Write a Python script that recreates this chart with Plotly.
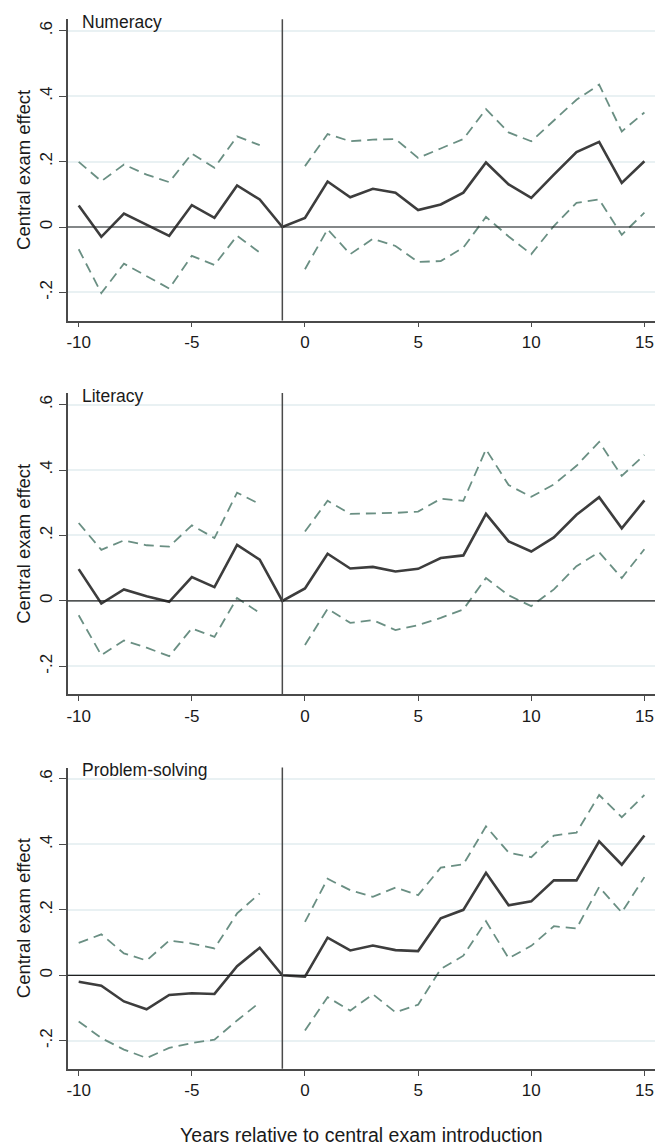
import plotly.graph_objects as go

# Event-time grid (years relative to central exam introduction)
years = list(range(-10, 16))

# Numeracy: point estimates and 95% confidence bounds (reference year -1 normalised to 0)
num_est = [0.066, -0.030, 0.041, 0.008, -0.027, 0.067, 0.028, 0.127, 0.084, 0.0,
           0.028, 0.139, 0.091, 0.117, 0.105, 0.052, 0.069, 0.105, 0.197, 0.130,
           0.089, 0.160, 0.229, 0.260, 0.135, 0.201]
num_hi = [0.199, 0.140, 0.191, 0.160, 0.137, 0.224, 0.181, 0.277, 0.250, None,
          0.186, 0.284, 0.262, 0.267, 0.269, 0.211, 0.240, 0.269, 0.360, 0.289,
          0.262, 0.326, 0.389, 0.435, 0.292, 0.350]
num_lo = [-0.068, -0.202, -0.112, -0.149, -0.188, -0.088, -0.116, -0.027, -0.078, None,
          -0.129, -0.007, -0.083, -0.036, -0.058, -0.107, -0.104, -0.063, 0.031, -0.029,
          -0.083, 0.003, 0.074, 0.084, -0.024, 0.044]

# Literacy
lit_est = [0.097, -0.008, 0.035, 0.014, -0.003, 0.073, 0.042, 0.171, 0.126, 0.0,
           0.038, 0.144, 0.099, 0.104, 0.090, 0.098, 0.131, 0.139, 0.266, 0.182,
           0.151, 0.194, 0.263, 0.317, 0.222, 0.307]
lit_hi = [0.238, 0.156, 0.185, 0.170, 0.166, 0.231, 0.192, 0.331, 0.296, None,
          0.212, 0.306, 0.266, 0.267, 0.269, 0.273, 0.312, 0.306, 0.463, 0.354,
          0.318, 0.356, 0.413, 0.486, 0.382, 0.446]
lit_lo = [-0.044, -0.166, -0.121, -0.143, -0.169, -0.084, -0.110, 0.009, -0.037, None,
          -0.135, -0.024, -0.067, -0.059, -0.089, -0.074, -0.052, -0.026, 0.070, 0.017,
          -0.016, 0.035, 0.106, 0.149, 0.070, 0.158]

# Problem-solving
ps_est = [-0.020, -0.032, -0.080, -0.104, -0.060, -0.055, -0.057, 0.028, 0.084, 0.0,
          -0.004, 0.115, 0.076, 0.091, 0.077, 0.074, 0.174, 0.200, 0.313, 0.214,
          0.226, 0.290, 0.290, 0.409, 0.338, 0.427]
ps_hi = [0.099, 0.125, 0.067, 0.045, 0.106, 0.097, 0.082, 0.189, 0.250, None,
         0.163, 0.295, 0.260, 0.240, 0.268, 0.245, 0.329, 0.339, 0.455, 0.375,
         0.361, 0.427, 0.436, 0.551, 0.483, 0.551]
ps_lo = [-0.141, -0.192, -0.227, -0.253, -0.222, -0.207, -0.197, -0.138, -0.083, None,
         -0.169, -0.067, -0.108, -0.058, -0.113, -0.090, 0.019, 0.060, 0.165, 0.052,
         0.090, 0.150, 0.143, 0.270, 0.192, 0.300]

panel_titles = ["Numeracy", "Literacy", "Problem-solving"]
y_ticks = [-0.2, 0, 0.2, 0.4, 0.6]
y_ticklabels = ["-.2", "0", ".2", ".4", ".6"]
x_ticks = [-10, -5, 0, 5, 10, 15]
x_ticklabels = ["-10", "-5", "0", "5", "10", "15"]
ref_year = -1

W, H = 669, 1146
FONT = "Liberation Sans, Arial, sans-serif"
TEXT_COLOR = "#1a1a1a"
EST_COLOR = "#3d3d3d"
CI_COLOR = "#6a8f83"
AXIS_COLOR = "#4a4a4a"
GRID_COLOR = "#e9f1f3"

x_range = [-10.49, 15.47]
y_range = [-0.286, 0.635]
x_domain = [66.7 / W, 655 / W]
# vertical pixel extents (top, bottom) of each panel's plot area
panel_px = [(19.3, 321.7), (394.5, 696.9), (770.2, 1072.6)]

panels = [(num_est, num_hi, num_lo), (lit_est, lit_hi, lit_lo), (ps_est, ps_hi, ps_lo)]

fig = go.Figure()
layout = dict(
    width=W, height=H,
    margin=dict(l=0, r=0, t=0, b=0),
    paper_bgcolor="white", plot_bgcolor="white",
    showlegend=False,
    font=dict(family=FONT, color=TEXT_COLOR),
)
shapes = []
annotations = []

for i, (est, hi, lo) in enumerate(panels):
    n = i + 1
    xa = "x" if n == 1 else f"x{n}"
    ya = "y" if n == 1 else f"y{n}"
    top, bot = panel_px[i]
    dom = [1 - bot / H, 1 - top / H]

    for series in (hi, lo):
        fig.add_trace(go.Scatter(
            x=years, y=series, mode="lines", xaxis=xa, yaxis=ya,
            line=dict(color=CI_COLOR, width=1.8, dash="10px,6px"),
            connectgaps=False, hoverinfo="skip"))
    fig.add_trace(go.Scatter(
        x=years, y=est, mode="lines", xaxis=xa, yaxis=ya,
        line=dict(color=EST_COLOR, width=2.6)))

    layout[f"xaxis{'' if n == 1 else n}"] = dict(
        domain=x_domain, range=x_range, anchor=ya,
        tickmode="array", tickvals=x_ticks, ticktext=x_ticklabels,
        ticks="outside", ticklen=5, tickwidth=1.3, tickcolor=AXIS_COLOR,
        showline=True, linecolor=AXIS_COLOR, linewidth=1.5,
        showgrid=False, zeroline=False,
        tickfont=dict(size=17, family=FONT, color=TEXT_COLOR),
        title=dict(text="Years relative to central exam introduction" if n == 3 else "",
                   font=dict(size=19.5, family=FONT, color=TEXT_COLOR), standoff=32),
    )
    layout[f"yaxis{'' if n == 1 else n}"] = dict(
        domain=dom, range=y_range, anchor=xa,
        tickmode="array", tickvals=y_ticks, ticktext=y_ticklabels, tickangle=-90,
        ticks="outside", ticklen=7, tickwidth=1.3, tickcolor=AXIS_COLOR,
        showline=True, linecolor=AXIS_COLOR, linewidth=1.5,
        showgrid=True, gridcolor=GRID_COLOR, gridwidth=1.5,
        zeroline=False,
        tickfont=dict(size=17, family=FONT, color=TEXT_COLOR),
        title=dict(text="Central exam effect",
                   font=dict(size=18.5, family=FONT, color=TEXT_COLOR), standoff=2),
    )

    # horizontal zero reference line
    shapes.append(dict(type="line", xref=f"{xa} domain", yref=ya, x0=0, x1=1, y0=0, y1=0,
                       line=dict(color="#1f1f1f", width=1.2)))
    # vertical line at the reference year
    shapes.append(dict(type="line", xref=xa, yref=f"{ya} domain", x0=ref_year, x1=ref_year,
                       y0=0, y1=1, line=dict(color=AXIS_COLOR, width=1.5)))

    annotations.append(dict(
        text=panel_titles[i], xref="paper", yref="paper",
        x=79 / W, y=1 - (top + 2.5) / H, xanchor="left", yanchor="middle",
        showarrow=False, font=dict(size=17.5, family=FONT, color=TEXT_COLOR)))

layout["shapes"] = shapes
layout["annotations"] = annotations
fig.update_layout(**layout)

fig.write_html("out.html")
